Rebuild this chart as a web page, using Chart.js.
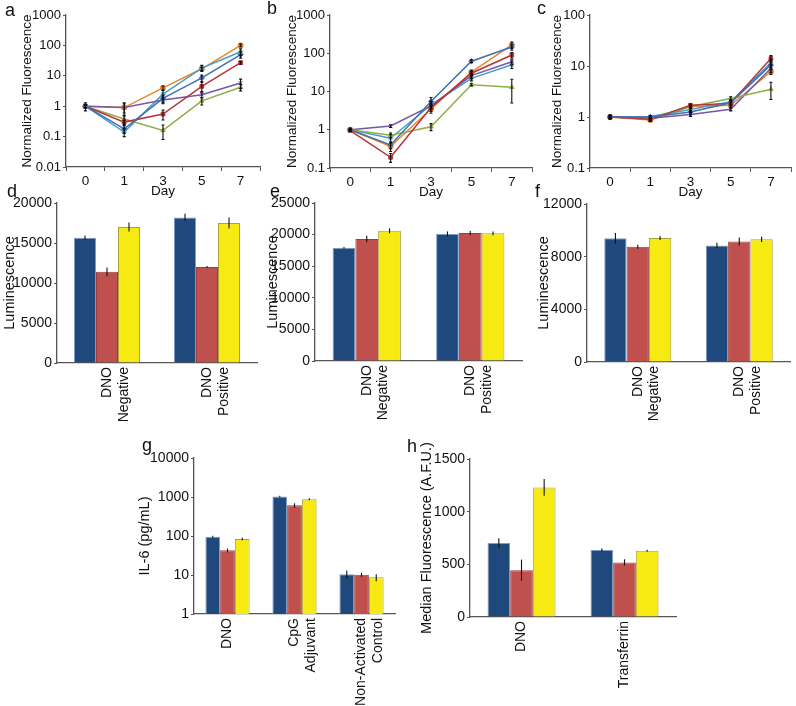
<!DOCTYPE html>
<html>
<head>
<meta charset="utf-8">
<script src="https://cdn.jsdelivr.net/npm/chart.js@4.4.1/dist/chart.umd.min.js"></script>
<style>
  body { margin: 0; background: #fff; width: 796px; height: 706px; position: relative; overflow: hidden;
         font-family: "Liberation Sans", Arial, sans-serif; }
  canvas { position: absolute; }
  .lbl { position: absolute; font-size: 18px; line-height: 18px; color: #111; }
</style>
</head>
<body>
<canvas id="a" width="265" height="202" style="left:0;top:0"></canvas>
<canvas id="b" width="272" height="203" style="left:265px;top:0"></canvas>
<canvas id="c" width="266" height="203" style="left:530px;top:0"></canvas>
<canvas id="d" width="262" height="235" style="left:0;top:188px"></canvas>
<canvas id="e" width="265" height="233" style="left:262px;top:188px"></canvas>
<canvas id="f" width="266" height="234" style="left:530px;top:188px"></canvas>
<canvas id="g" width="270" height="266" style="left:130px;top:440px"></canvas>
<canvas id="h" width="282" height="262" style="left:400px;top:440px"></canvas>

<div class="lbl" style="left:5px;top:1px">a</div>
<div class="lbl" style="left:267px;top:-1px">b</div>
<div class="lbl" style="left:537px;top:-1px">c</div>
<div class="lbl" style="left:7px;top:182px">d</div>
<div class="lbl" style="left:270px;top:182px">e</div>
<div class="lbl" style="left:535px;top:182px">f</div>
<div class="lbl" style="left:142px;top:436px">g</div>
<div class="lbl" style="left:407px;top:437px">h</div>

<script>
// ---- data ----
const days = ['0', '1', '3', '5', '7'];

// panel a
const aBlue   = [1, 0.18, 1.8, 8.5, 50];
const aRed    = [1, 0.3, 0.55, 4.5, 27];
const aGreen  = [1, 0.38, 0.16, 1.5, 4.2];
const aPurple = [1, 0.9, 1.6, 2.4, 5.8];
const aAqua   = [1, 0.14, 2.5, 18, 62];
const aOrange = [1, 0.9, 4, 17, 100];
const aBlueErr   = [0.1, 0.05, 0.5, 2, 12];
const aRedErr    = [0.1, 0.05, 0.2, 1.5, 3];
const aGreenErr  = [0.1, 0.1, 0.08, 0.4, 1];
const aPurpleErr = [0.1, 0.4, 0.4, 0.5, 2];
const aAquaErr   = [0.1, 0.04, 0.8, 4, 15];
const aOrangeErr = [0.3, 0.3, 0.6, 2, 10];
const aTicks = [0.01, 0.1, 1, 10, 100, 1000];

// panel b
const bBlue   = [1, 0.4, 5.5, 62, 145];
const bRed    = [0.95, 0.19, 3.8, 30, 90];
const bGreen  = [1, 0.72, 1.2, 15, 13];
const bPurple = [1, 1.25, 4.2, 26, 60];
const bAqua   = [1, 0.6, 4.5, 22, 50];
const bOrange = [1, 0.37, 3.5, 32, 165];
const bBlueErr   = [0.05, 0.08, 1.5, 5, 25];
const bRedErr    = [0.05, 0.05, 0.8, 4, 15];
const bGreenErr  = [0.05, 0.1, 0.25, 1, 8];
const bPurpleErr = [0.05, 0.1, 0.8, 4, 10];
const bAquaErr   = [0.05, 0.15, 1, 3, 10];
const bOrangeErr = [0.1, 0.1, 0.8, 4, 30];
const bTicks = [0.1, 1, 10, 100, 1000];

// panel c
const cBlue   = [1, 1.0, 1.25, 1.9, 10.5];
const cRed    = [1, 0.9, 1.7, 1.85, 14];
const cGreen  = [1, 0.95, 1.6, 2.3, 3.5];
const cPurple = [1, 0.95, 1.12, 1.42, 9];
const cAqua   = [1, 1.02, 1.4, 2.0, 11.5];
const cOrange = [1, 0.87, 1.6, 1.7, 7.8];
const cBlueErr   = [0.05, 0.05, 0.1, 0.2, 2];
const cRedErr    = [0.05, 0.05, 0.1, 0.2, 2];
const cGreenErr  = [0.05, 0.05, 0.1, 0.2, 1.3];
const cPurpleErr = [0.05, 0.05, 0.1, 0.1, 1.5];
const cAquaErr   = [0.05, 0.05, 0.1, 0.2, 2];
const cOrangeErr = [0.1, 0.05, 0.1, 0.2, 1];
const cTicks = [0.1, 1, 10, 100];

// panels d, e, f (luminescence)
const lumCats = [['DNO', 'Negative'], ['DNO', 'Positive']];
const dBlue = [15650, 18200], dRed = [11400, 12000], dYellow = [17000, 17500];
const dBlueErr = [300, 450], dRedErr = [550, 120], dYellowErr = [550, 700];
const dTicks = [0, 5000, 10000, 15000, 20000];

const eBlue = [17900, 20100], eRed = [19300, 20250], eYellow = [20600, 20200];
const eBlueErr = [150, 400], eRedErr = [500, 300], eYellowErr = [400, 300];
const eTicks = [0, 5000, 10000, 15000, 20000, 25000];

const fBlue = [9400, 8850], fRed = [8750, 9150], fYellow = [9420, 9320];
const fBlueErr = [400, 200], fRedErr = [150, 300], fYellowErr = [150, 200];
const fTicks = [0, 4000, 8000, 12000];

// panel g (IL-6)
const gCats = ['DNO', ['CpG', 'Adjuvant'], ['Non-Activated', 'Control']];
const gBlue = [96, 1030, 10.5], gRed = [43, 610, 10.2], gYellow = [84, 880, 8.7];
const gBlueErr = [6, 50, 2.5], gRedErr = [5, 80, 1.2], gYellowErr = [6, 50, 1.8];
const gTicks = [1, 10, 100, 1000, 10000];

// panel h (median fluorescence)
const hCats = ['DNO', 'Transferrin'];
const hBlue = [702, 636], hRed = [445, 518], hYellow = [1230, 629];
const hBlueErr = [45, 15], hRedErr = [100, 30], hYellowErr = [80, 10];
const hTicks = [0, 500, 1000, 1500];

// ---- styles ----
const FONT = '"Liberation Sans", Arial, sans-serif';
const lineColors = ['#3f6fb3', '#b8343a', '#8fae4a', '#7657a3', '#43a0c6', '#e8872c'];
const lineMarkers = ['rectRot', 'rect', 'triangle', 'crossRot', 'star', 'circle'];
const barColors = ['#1f497d', '#c0504d', '#f6ea12'];
const barBorders = ['#7f9cc4', '#9e3d3a', '#a9a23a'];
const axisColor = '#555';

// simple error bar plugin, positions come from the chart's own scales
const errorBars = {
  id: 'errorBars',
  afterDatasetsDraw(chart, args, opts) {
    const ctx = chart.ctx, y = chart.scales.y;
    ctx.save();
    ctx.strokeStyle = '#111';
    ctx.lineWidth = 1.1;
    chart.data.datasets.forEach((ds, i) => {
      if (!ds.errors) return;
      chart.getDatasetMeta(i).data.forEach((el, j) => {
        const v = ds.data[j], e = ds.errors[j];
        let lo = v - e;
        if (lo <= y.min) lo = Math.max(y.min, v * 0.3);
        const top = y.getPixelForValue(v + e), bot = y.getPixelForValue(lo);
        const cap = opts.cap || 0;
        ctx.beginPath();
        ctx.moveTo(el.x, top); ctx.lineTo(el.x, bot);
        if (cap) {
          ctx.moveTo(el.x - cap, top); ctx.lineTo(el.x + cap, top);
          ctx.moveTo(el.x - cap, bot); ctx.lineTo(el.x + cap, bot);
        }
        ctx.stroke();
      });
    });
    ctx.restore();
  }
};

function yAxis(type, ticks, title, fontSize, width, titlePad) {
  return {
    type: type,
    min: ticks[0],
    max: ticks[ticks.length - 1],
    afterBuildTicks: s => { s.ticks = ticks.map(v => ({ value: v })); },
    afterFit: s => { s.width = width; },
    ticks: { color: '#111', font: { family: FONT, size: fontSize }, padding: 2,
             callback: v => String(v) },
    grid: { display: true, drawOnChartArea: false, drawTicks: true, tickLength: 3, color: axisColor },
    border: { display: true, color: axisColor, width: 1.3 },
    title: { display: true, text: title, color: '#111', font: { family: FONT, size: fontSize + 0.5 },
             padding: { top: titlePad, bottom: 0 } }
  };
}

function lineChart(id, series, errs, ticks, lay) {
  new Chart(document.getElementById(id), {
    type: 'line',
    data: {
      labels: days,
      datasets: series.map((s, i) => ({
        data: s,
        errors: errs[i],
        borderColor: lineColors[i],
        backgroundColor: lineColors[i],
        borderWidth: 1.5,
        pointStyle: lineMarkers[i],
        pointRadius: 2.6,
        pointBorderWidth: 1,
        tension: 0
      }))
    },
    options: {
      responsive: false,
      animation: false,
      layout: { padding: { top: 15, right: lay.pr, left: 0, bottom: 0 } },
      scales: {
        x: {
          type: 'category',
          offset: true,
          afterFit: s => { s.height = 35; },
          ticks: { color: '#111', font: { family: FONT, size: 13.5 }, padding: 2, maxRotation: 0 },
          grid: { display: true, offset: true, drawOnChartArea: false, drawTicks: true, tickLength: 4, color: axisColor },
          border: { display: true, color: axisColor, width: 1.3 },
          title: { display: true, text: 'Day', color: '#111', font: { family: FONT, size: 13.5 },
                   padding: { top: 0, bottom: 3 } }
        },
        y: yAxis('logarithmic', ticks, 'Normalized Fluorescence', 13, lay.wy, 19)
      },
      plugins: { legend: { display: false }, tooltip: { enabled: false }, errorBars: { cap: 1.5 } }
    },
    plugins: [errorBars]
  });
}

function barChart(id, cats, series, errs, ticks, type, title, lay) {
  new Chart(document.getElementById(id), {
    type: 'bar',
    data: {
      labels: cats,
      datasets: series.map((s, i) => ({
        data: s,
        errors: errs[i],
        backgroundColor: barColors[i],
        borderColor: barBorders[i],
        borderWidth: 1,
        categoryPercentage: 0.66,
        barPercentage: 1.0
      }))
    },
    options: {
      responsive: false,
      animation: false,
      layout: { padding: { top: lay.pt, right: lay.pr, left: 0, bottom: 0 } },
      scales: {
        x: {
          afterFit: s => { s.height = lay.hx; },
          ticks: { color: '#111', font: { family: FONT, size: 14 }, padding: 4,
                   minRotation: 90, maxRotation: 90, autoSkip: false },
          grid: { display: true, drawOnChartArea: false, drawTicks: false, color: axisColor },
          border: { display: true, color: axisColor, width: 1.3 }
        },
        y: yAxis(type, ticks, title, 14, lay.wy, lay.tp)
      },
      plugins: { legend: { display: false }, tooltip: { enabled: false }, errorBars: { cap: 0 } }
    },
    plugins: [errorBars]
  });
}

lineChart('a', [aBlue, aRed, aGreen, aPurple, aAqua, aOrange],
  [aBlueErr, aRedErr, aGreenErr, aPurpleErr, aAquaErr, aOrangeErr], aTicks, { wy: 66, pr: 4 });
lineChart('b', [bBlue, bRed, bGreen, bPurple, bAqua, bOrange],
  [bBlueErr, bRedErr, bGreenErr, bPurpleErr, bAquaErr, bOrangeErr], bTicks, { wy: 65, pr: 5 });
lineChart('c', [cBlue, cRed, cGreen, cPurple, cAqua, cOrange],
  [cBlueErr, cRedErr, cGreenErr, cPurpleErr, cAquaErr, cOrangeErr], cTicks, { wy: 60, pr: 2 });

barChart('d', lumCats, [dBlue, dRed, dYellow], [dBlueErr, dRedErr, dYellowErr], dTicks,
  'linear', 'Luminescence', { wy: 57, pr: 5, pt: 15, hx: 60, tp: 1 });
barChart('e', lumCats, [eBlue, eRed, eYellow], [eBlueErr, eRedErr, eYellowErr], eTicks,
  'linear', 'Luminescence', { wy: 53, pr: 5, pt: 15, hx: 60, tp: 2 });
barChart('f', lumCats, [fBlue, fRed, fYellow], [fBlueErr, fRedErr, fYellowErr], fTicks,
  'linear', 'Luminescence', { wy: 57, pr: 6, pt: 16, hx: 60, tp: 5 });
barChart('g', gCats, [gBlue, gRed, gYellow], [gBlueErr, gRedErr, gYellowErr], gTicks,
  'logarithmic', 'IL-6 (pg/mL)', { wy: 64, pr: 5, pt: 18, hx: 92, tp: 6 });
barChart('h', hCats, [hBlue, hRed, hYellow], [hBlueErr, hRedErr, hYellowErr], hTicks,
  'linear', 'Median Fluorescence (A.F.U.)', { wy: 70, pr: 6, pt: 19, hx: 85, tp: 18 });
</script>
</body>
</html>
